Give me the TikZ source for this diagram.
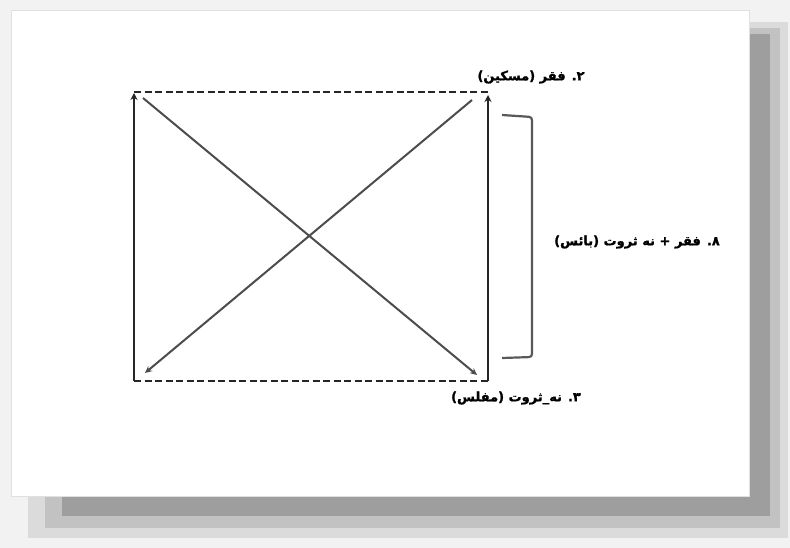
\documentclass[tikz,border=0pt]{standalone}
\usepackage{fontspec}
\newfontfamily\arabicfont[Script=Arabic,BoldFont={DejaVu Sans Bold},BoldFeatures={FakeBold=1.2}]{DejaVu Sans}
\TeXXeTstate=1
\usetikzlibrary{arrows.meta}
\begin{document}
\begin{tikzpicture}[x=1pt,y=-1pt,
  solidside/.style={line width=2.8pt,black!85,-{Stealth[length=7pt,width=7pt]}},
  dashedside/.style={line width=2.8pt,black!85,dash pattern=on 7pt off 3.5pt},
  diag/.style={line width=2pt,black!70,-{Stealth[length=7pt,width=6.5pt]}},
  brace/.style={line width=2.2pt,black!65,rounded corners=3pt},
  lbl/.style={font=\arabicfont\bfseries\fontsize{13}{15}\selectfont,inner sep=1pt,text=black}]
\useasboundingbox (0,0) rectangle (790,548);
% background and shadow
\fill[black!5] (0,0) rectangle (790,548);
\fill[black!14] (28,22) rectangle (788,538);
\fill[black!24] (45,28) rectangle (780,528);
\fill[black!38] (62,34) rectangle (770,516);
\fill[white] (11,10) rectangle (749,496);
\draw[black!12,line width=0.5pt] (11,10) rectangle (749,496);
% corners
\coordinate (TL) at (134,92);
\coordinate (TR) at (488,92);
\coordinate (BL) at (134,381);
\coordinate (BR) at (488,381);
\coordinate (vL) at (134,93);
\coordinate (vR) at (488,95);
\coordinate (d1s) at (143,98);
\coordinate (d1e) at (477,375);
\coordinate (d2s) at (472,100);
\coordinate (d2e) at (145,373);
% dashed top and bottom
\draw[dashedside] (TL) -- (TR);
\draw[dashedside] (BL) -- (BR);
% solid sides
\draw[solidside] (BL) -- (vL);
\draw[solidside] (BR) -- (vR);
% diagonals
\draw[diag] (d1s) -- (d1e);
\draw[diag] (d2s) -- (d2e);
% bracket
\coordinate (b1) at (502,115);
\coordinate (b2) at (532,117);
\coordinate (b3) at (532,357);
\coordinate (b4) at (502,358);
\draw[brace] (b1) -- (b2) -- (b3) -- (b4);
% labels
\node[lbl] (l2) at (531,77) {\beginR ۲. فقر (مسکین)\endR};
\node[lbl] (l8) at (637,242) {\beginR ۸. فقر + نه ثروت (بائس)\endR};
\node[lbl] (l3) at (516,398) {\beginR ۳. نه\_ثروت (مفلس)\endR};
\end{tikzpicture}
\end{document}
